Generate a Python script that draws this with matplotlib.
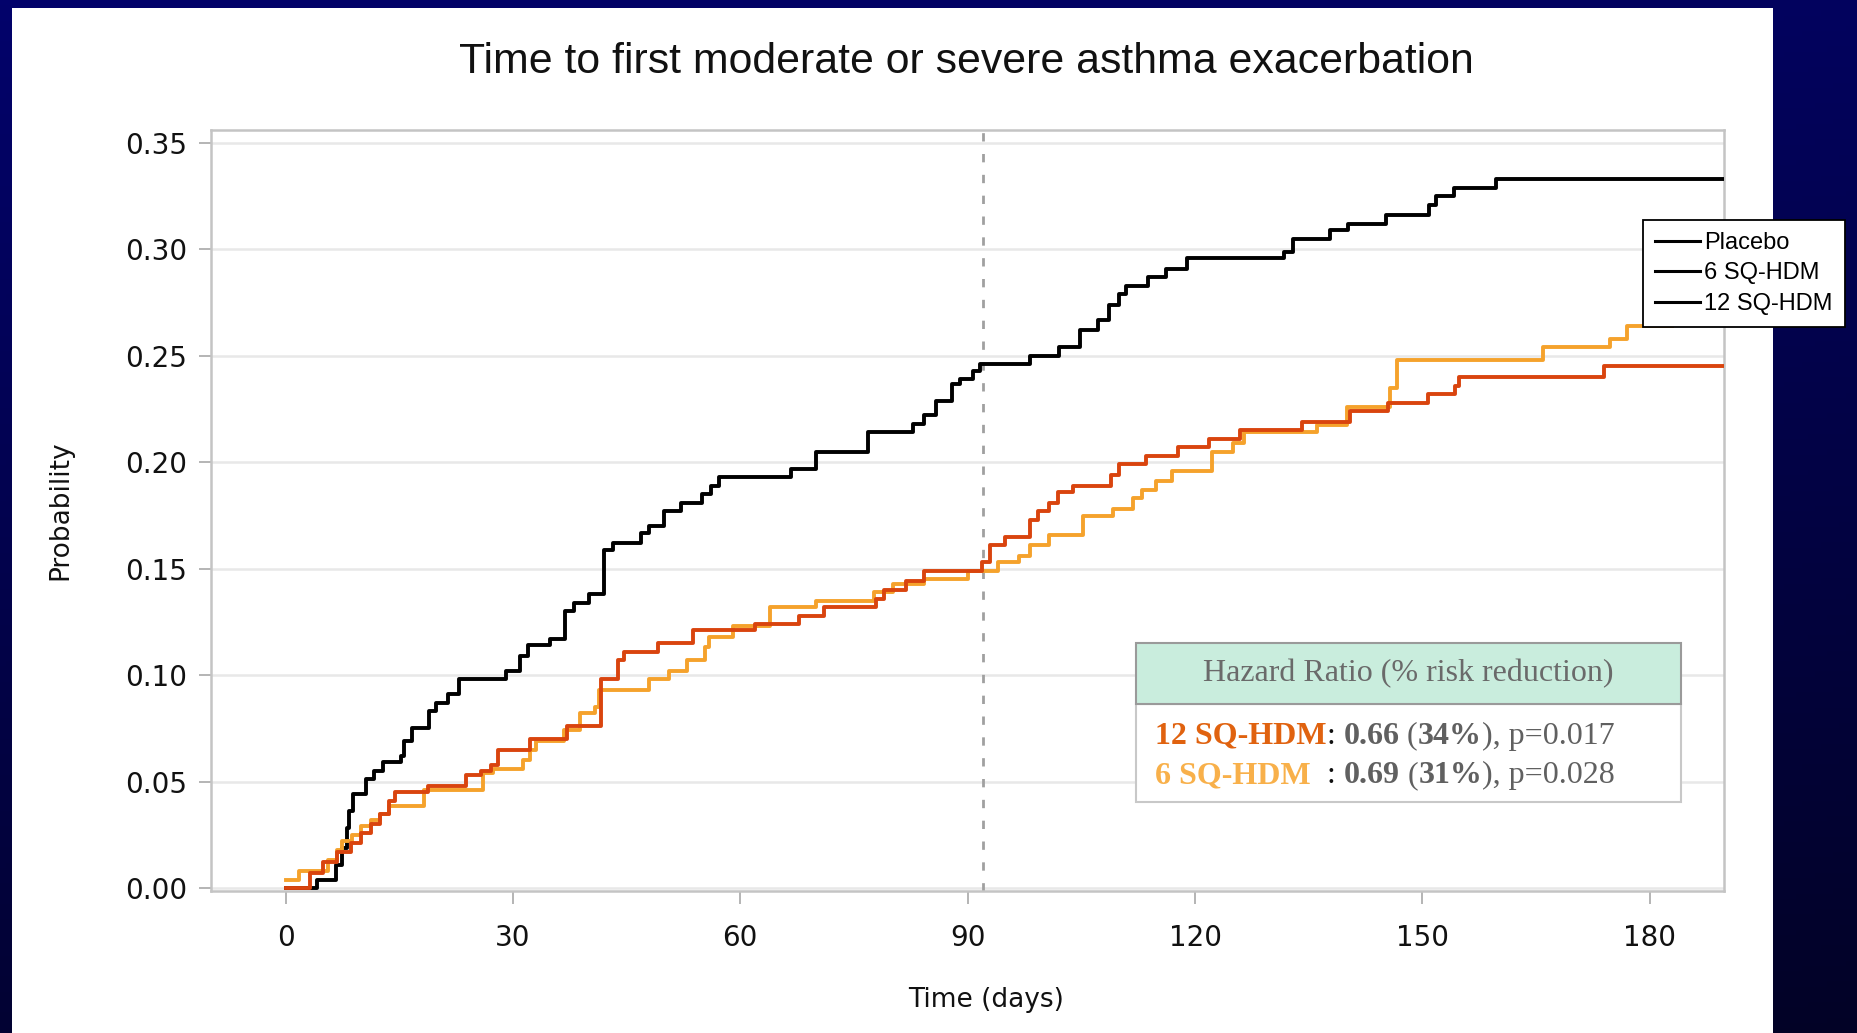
import numpy as np
import matplotlib.pyplot as plt
from matplotlib.lines import Line2D
from matplotlib.patches import Rectangle

# Cumulative probability of a first moderate/severe exacerbation (1 - KM), by arm
days_placebo = [0, 4.2, 6.6, 7.5, 8.1, 8.4, 8.9, 10.6, 11.7, 12.8,
                15.2, 15.6, 16.7, 18.9, 19.8, 21.5, 22.9, 29.1, 30.9, 32.0,
                34.9, 36.9, 38.0, 40.0, 42.0, 43.2, 46.9, 48.0, 50.0, 52.2,
                55.0, 56.1, 57.2, 66.7, 70.0, 76.8, 82.8, 84.3, 85.8, 88.0,
                89.0, 90.7, 91.6, 98.2, 102.1, 104.8, 107.2, 108.7, 110.0, 110.9,
                113.8, 116.2, 119.0, 131.8, 132.9, 137.8, 140.2, 145.2, 150.9, 151.8,
                154.2, 159.7, 190.0]
prob_placebo = [0, 0.004, 0.011, 0.019, 0.028, 0.036, 0.044, 0.051, 0.055, 0.059,
                0.062, 0.069, 0.075, 0.083, 0.087, 0.091, 0.098, 0.102, 0.109, 0.114,
                0.117, 0.130, 0.134, 0.138, 0.159, 0.162, 0.167, 0.170, 0.177, 0.181,
                0.185, 0.189, 0.193, 0.197, 0.205, 0.214, 0.218, 0.222, 0.229, 0.237,
                0.239, 0.243, 0.246, 0.250, 0.254, 0.262, 0.267, 0.274, 0.279, 0.283,
                0.287, 0.291, 0.296, 0.299, 0.305, 0.309, 0.312, 0.316, 0.321, 0.325,
                0.329, 0.333, 0.333]

days_12 = [0, 3.2, 5.0, 6.8, 8.6, 10.0, 11.3, 12.4, 13.7, 14.4,
           18.8, 23.8, 25.8, 27.1, 28.0, 32.2, 37.2, 41.6, 43.8, 44.7,
           49.1, 53.7, 61.9, 67.8, 71.1, 77.9, 79.0, 81.9, 84.2, 91.9,
           93.0, 94.9, 98.2, 99.3, 100.8, 101.9, 103.9, 108.9, 110.0, 113.6,
           117.7, 121.9, 126.0, 134.1, 140.4, 145.4, 150.7, 154.3, 154.8, 174.0,
           190.0]
prob_12 = [0, 0.007, 0.012, 0.017, 0.021, 0.026, 0.030, 0.035, 0.041, 0.045,
           0.048, 0.053, 0.055, 0.058, 0.065, 0.070, 0.076, 0.098, 0.107, 0.111,
           0.115, 0.121, 0.124, 0.128, 0.132, 0.136, 0.140, 0.144, 0.149, 0.153,
           0.161, 0.165, 0.173, 0.177, 0.181, 0.186, 0.189, 0.194, 0.199, 0.203,
           0.207, 0.211, 0.215, 0.219, 0.224, 0.228, 0.232, 0.236, 0.240, 0.245,
           0.245]

days_6 = [0, 1.8, 5.6, 6.8, 7.5, 8.8, 10.0, 11.3, 12.5, 13.6,
          18.3, 26.0, 27.4, 31.3, 32.2, 33.1, 36.8, 38.8, 40.8, 41.4,
          48.0, 50.6, 53.0, 55.3, 55.9, 59.0, 63.9, 70.0, 77.7, 80.1,
          84.3, 90.0, 94.0, 96.8, 98.2, 100.8, 105.2, 109.2, 111.8, 113.0,
          114.9, 116.9, 122.2, 125.0, 126.5, 136.1, 140.1, 145.7, 146.7, 165.9,
          174.8, 177.0, 183.0]
prob_6 = [0.004, 0.008, 0.013, 0.018, 0.022, 0.025, 0.029, 0.032, 0.035, 0.0385,
          0.046, 0.054, 0.056, 0.060, 0.065, 0.069, 0.074, 0.082, 0.085, 0.093,
          0.098, 0.102, 0.107, 0.113, 0.118, 0.123, 0.132, 0.135, 0.139, 0.143,
          0.145, 0.149, 0.153, 0.156, 0.161, 0.166, 0.175, 0.178, 0.183, 0.187,
          0.191, 0.196, 0.205, 0.209, 0.214, 0.2175, 0.226, 0.235, 0.248, 0.254,
          0.258, 0.264, 0.264]

arm_labels = ["Placebo", "6 SQ-HDM", "12 SQ-HDM"]
x_ticks = [0, 30, 60, 90, 120, 150, 180]
y_ticks = [0.00, 0.05, 0.10, 0.15, 0.20, 0.25, 0.30, 0.35]
cutoff_day = 92

# hazard ratios vs placebo
hr_groups = ["12 SQ-HDM", "6 SQ-HDM"]
hr_values = [0.66, 0.69]
risk_reduction = [34, 31]
p_values = ["0.017", "0.028"]

W, H = 1858, 1033
fig = plt.figure(figsize=(W / 100, H / 100), dpi=100)

# slide background: navy gradient with a white panel
bg = fig.add_axes([0, 0, 1, 1], zorder=-10)
bg.axis('off')
xx, yy = np.meshgrid(np.linspace(0, 1, 300), np.linspace(0, 1, 200))
grad = np.zeros(xx.shape + (3,))
grad[..., 0] = 0.01
grad[..., 1] = 0.01
grad[..., 2] = 0.20 + 0.22 * yy - 0.05 * xx
bg.imshow(grad, extent=(0, 1, 0, 1), origin='lower', aspect='auto')
bg.add_patch(Rectangle((12 / W, 0), (1773 - 12) / W, (H - 8) / H,
                       facecolor='white', edgecolor='none'))
bg.set_xlim(0, 1)
bg.set_ylim(0, 1)

fig.text(966 / W, 1 - 62 / H, "Time to first moderate or severe asthma exacerbation",
         ha='center', va='center', fontsize=30.8, family='Liberation Sans', color='#111111')

ax = fig.add_axes([210.9 / W, (H - 891) / H, (1724 - 210.9) / W, (891 - 130) / H])
ax.set_facecolor('white')

ax.step(days_placebo, prob_placebo, where='post', color='black', lw=2.8, zorder=3)
ax.step(days_6, prob_6, where='post', color='#f5a22c', lw=2.8, zorder=4)
ax.step(days_12, prob_12, where='post', color='#d9440e', lw=2.8, zorder=5)
ax.axvline(cutoff_day, color='#a0a0a0', lw=2.0, ls=(0, (3.0, 4.5)), zorder=2)

ax.set_xlim(-9.85, 189.8)
ax.set_ylim(-0.0014, 0.3561)
ax.set_xticks(x_ticks)
ax.set_yticks(y_ticks)
ax.set_yticklabels([f"{v:.2f}" for v in y_ticks])
ax.tick_params(axis='both', direction='out', length=9, width=1.2, color='#a8a8a8',
               labelsize=20, labelcolor='#111111')
ax.tick_params(axis='x', pad=15)
ax.tick_params(axis='y', pad=8)
ax.yaxis.grid(True, color='#e8e8e8', lw=1.8)
ax.set_axisbelow(True)
for s in ax.spines.values():
    s.set_color('#c4c4c4')
    s.set_linewidth(1.8)

ax.set_xlabel("Time (days)", fontsize=19, color='#111111')
ax.xaxis.set_label_coords(0.512, -0.126)
ax.set_ylabel("Probability", fontsize=19, color='#111111')
ax.yaxis.set_label_coords(-0.091, 0.5)

# legend (all entries drawn in black, as in the original figure)
handles = [Line2D([], [], color='black', lw=2.2) for _ in arm_labels]
leg = fig.legend(handles, arm_labels, loc='upper left',
                 bbox_to_anchor=(1643 / W, 1 - 220 / H), bbox_transform=fig.transFigure,
                 prop={'family': 'Liberation Sans', 'size': 17}, frameon=True,
                 fancybox=False, edgecolor='black', framealpha=1, borderpad=0.5,
                 handlelength=1.9, handletextpad=0.2, labelspacing=0.36, borderaxespad=0)
leg.get_frame().set_linewidth(1.3)

# hazard ratio box
bx0, bx1 = 0.6114, 0.9716
by_top, by_mid, by_bot = 0.3259, 0.2457, 0.1170
ax.add_patch(Rectangle((bx0, by_bot), bx1 - bx0, by_mid - by_bot, transform=ax.transAxes,
                       facecolor='white', edgecolor='#c8c8c8', lw=1.5, zorder=6))
ax.add_patch(Rectangle((bx0, by_mid), bx1 - bx0, by_top - by_mid, transform=ax.transAxes,
                       facecolor='#c9eddd', edgecolor='#9a9a9a', lw=1.5, zorder=6))
ax.text((bx0 + bx1) / 2, (by_mid + by_top) / 2, "Hazard Ratio (% risk reduction)",
        transform=ax.transAxes, ha='center', va='center', fontsize=23,
        family='Liberation Serif', color='#6a6a6a', zorder=7)


def write_run(x, y, pieces):
    s, col, wt = pieces[0]
    t = ax.text(x, y, s, transform=ax.transAxes, color=col, fontweight=wt, fontsize=23,
                family='Liberation Serif', va='baseline', ha='left', zorder=7)
    for s, col, wt in pieces[1:]:
        t = ax.annotate(s, xy=(1, 0), xycoords=t, va='bottom', ha='left', color=col,
                        fontweight=wt, fontsize=23, family='Liberation Serif', zorder=7)


gray = '#606060'
group_colors = ['#e0620f', '#f8b04a']
colon = [": ", "  : "]
baselines = [0.1938, 0.1413]
for i in range(len(hr_groups)):
    write_run(0.624, baselines[i], [
        (hr_groups[i], group_colors[i], 'bold'),
        (colon[i], '#111111', 'normal'),
        (f"{hr_values[i]:.2f}", gray, 'bold'),
        (" (", gray, 'normal'),
        (f"{risk_reduction[i]}%", gray, 'bold'),
        (f"), p={p_values[i]}", gray, 'normal'),
    ])

fig.savefig("out.png", dpi=100)
